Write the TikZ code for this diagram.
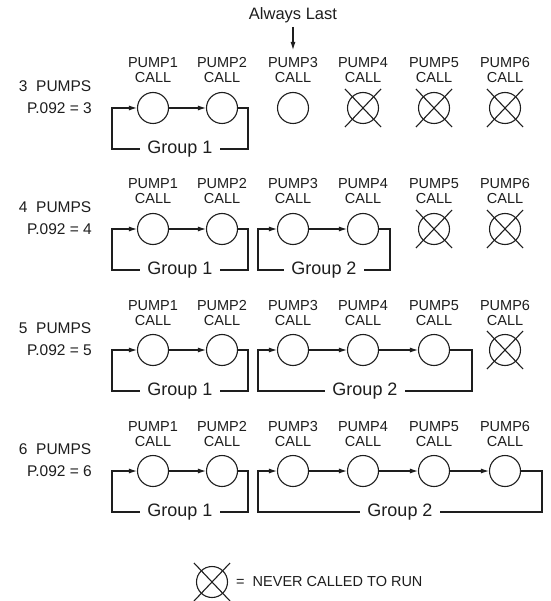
\documentclass[tikz,border=0pt]{standalone}
\usepackage{fontspec}
\setmainfont{Liberation Sans}
\usetikzlibrary{arrows.meta}
\definecolor{ink}{HTML}{1E1E1E}
\tikzset{
  pump/.style={circle,draw=ink,line width=1.1pt,minimum size=31pt,inner sep=0pt},
  cross/.style={draw=ink,line width=1.1pt},
  lbl/.style={font=\fontsize{14.5}{15}\selectfont,text=ink,inner sep=0pt,anchor=base},
  rowlbl/.style={font=\fontsize{15.5}{16}\selectfont,text=ink,inner sep=0pt,anchor=base east},
  grp/.style={font=\fontsize{18}{20}\selectfont,fill=white,text=ink,inner xsep=7pt,inner ysep=1pt},
  link/.style={draw=ink,line width=1.1pt,-{Latex[length=8pt,width=5pt]}},
  loopline/.style={draw=ink,line width=1.1pt,-{Latex[length=8pt,width=5pt]}},
}
\begin{document}
\begin{tikzpicture}[x=1pt,y=-1pt]
\useasboundingbox (0,0) rectangle (550,601);
\fill[white] (0,0) rectangle (550,601);

% Always Last
\node[font=\fontsize{16.5}{18}\selectfont,text=ink,inner sep=0pt,anchor=base] (always) at (293,20) {Always Last};
\coordinate (alwaysend) at (293,50);
\draw[link] (293,27) -- (alwaysend);

\foreach \r/\cy/\gx in {1/108/0,2/229/390,3/350/472,4/471/542} {
  \pgfmathtruncatemacro\n{\r+2}
  \node[rowlbl] (rn\r) at (91.5,\cy-16.5) {\n\ \ PUMPS};
  \node[rowlbl] (rp\r) at (92,\cy+5.5) {P.092 = \n};
  \foreach \c/\cx in {1/153,2/222,3/293,4/363,5/434,6/505} {
    \node[lbl] (t\r\c) at (\cx,\cy-40) {PUMP\c};
    \node[lbl] (u\r\c) at (\cx,\cy-25) {CALL};
    \node[pump] (c\r\c) at (\cx,\cy) {};
    \ifnum\c>\n
      \draw[cross] (c\r\c.center) +(-18,-19) -- +(18,19);
      \draw[cross] (c\r\c.center) +(18,-19) -- +(-18,19);
    \fi
  }
  \foreach \c in {1,...,5} {
    \pgfmathtruncatemacro\d{\c+1}
    \ifnum\d>\n\else\ifnum\c=2\else
      \draw[link] (c\r\c) -- (c\r\d);
    \fi\fi
  }
  % Group 1
  \coordinate (ga\r) at (112,\cy+41);
  \coordinate (gb\r) at (248,\cy+41);
  \draw[loopline] (c\r2.east) -| (gb\r) -- node[grp] (g1\r) {Group 1} (ga\r) |- (c\r1.west);
  % Group 2
  \ifnum\r>1
    \coordinate (gc\r) at (258,\cy+41);
    \coordinate (gd\r) at (\gx,\cy+41);
    \draw[loopline] (c\r\n.east) -| (gd\r) -- node[grp] (g2\r) {Group 2} (gc\r) |- (c\r3.west);
  \fi
}

% Legend
\node[pump] (leg) at (212,582) {};
\draw[cross] (leg.center) +(-18,-19) -- +(18,19);
\draw[cross] (leg.center) +(18,-19) -- +(-18,19);
\node[font=\fontsize{14.5}{15}\selectfont,text=ink,inner sep=0pt,anchor=west] (legtxt) at (236,582) {=\ \ NEVER CALLED TO RUN};
\end{tikzpicture}
\end{document}
